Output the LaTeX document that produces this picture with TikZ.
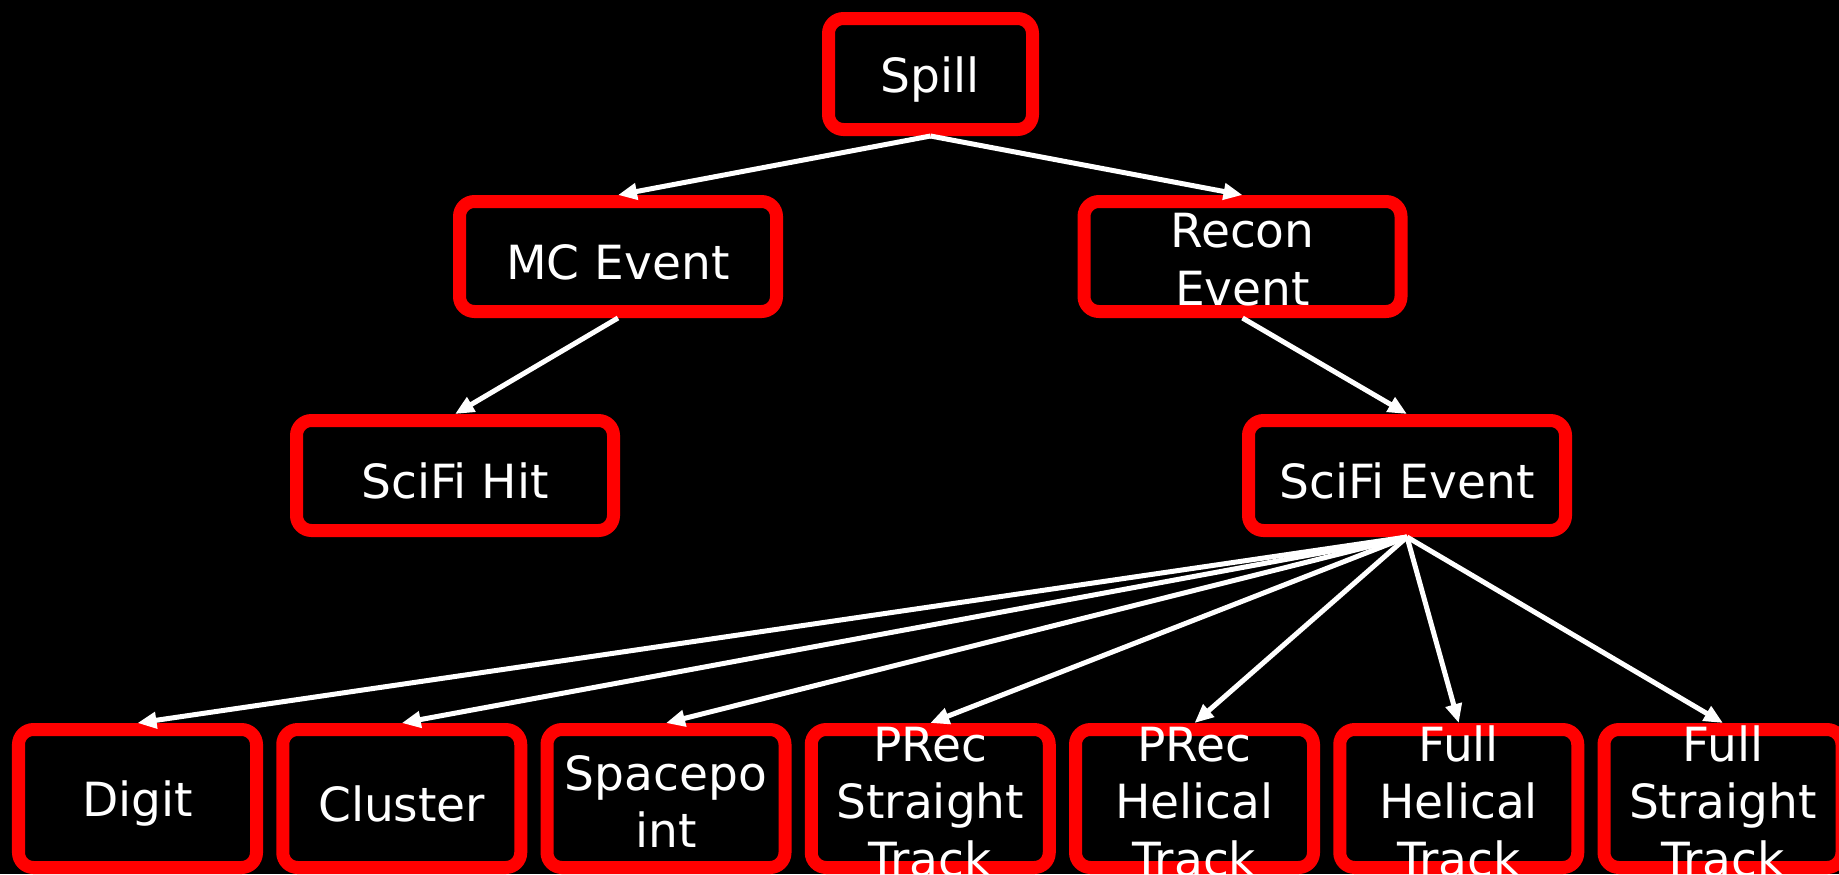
\documentclass[tikz,border=0pt]{standalone}
\usepackage{fontspec}
\setmainfont{DejaVu Sans}
\usetikzlibrary{arrows.meta}
\definecolor{boxred}{RGB}{255,0,0}
\newcommand{\firstline}{\rule{0pt}{0.87em}}

\begin{document}
\begin{tikzpicture}[
  every node/.style={font=\fontsize{13.4}{16.4}\selectfont, text=white},
  box/.style={draw=boxred, line width=0.13cm, rounded corners=0.15cm, fill=black,
    align=center, inner xsep=0pt, inner ysep=-0.25cm, minimum height=1.10cm,
    execute at begin node={\rule{0pt}{0.98em}}},
  wide/.style={box, minimum width=3.17cm},
  leaf/.style={box, minimum width=2.38cm, minimum height=1.38cm},
  link/.style={white, line width=0.05cm, -{Triangle[length=0.19cm,width=0.16cm]}}
]
\fill[black] (0,0) rectangle (18.39,-8.74);
\useasboundingbox (0,0) rectangle (18.39,-8.74);

% top levels
\node[box, minimum width=2.04cm, minimum height=1.11cm] (spill) at (9.305,-0.74) {Spill};
\node[wide] (mcevent) at (6.18,-2.565) {MC Event};
\node[wide] (reconevent) at (12.425,-2.565) {\firstline Recon\\Event};
\node[wide] (scifihit) at (4.55,-4.755) {SciFi Hit};
\node[wide] (scifievent) at (14.07,-4.755) {SciFi Event};

% bottom row
\node[leaf] (digit) at (1.375,-7.985) {Digit};
\node[leaf] (cluster) at (4.0175,-7.985) {Cluster};
\node[leaf] (spacepoint) at (6.66,-7.985) {\firstline Spacepo\\int};
\node[leaf] (precstraight) at (9.3025,-7.985) {\firstline PRec\\Straight\\Track};
\node[leaf] (prechelical) at (11.945,-7.985) {\firstline PRec\\Helical\\Track};
\node[leaf] (fullhelical) at (14.5875,-7.985) {\firstline Full\\Helical\\Track};
\node[leaf] (fullstraight) at (17.23,-7.985) {\firstline Full\\Straight\\Track};

% connectors
\draw[link] (spill.south) -- (mcevent.north);
\draw[link] (spill.south) -- (reconevent.north);
\draw[link] (mcevent.south) -- (scifihit.north);
\draw[link] (reconevent.south) -- (scifievent.north);
\draw[link] (scifievent.south) -- (digit.north);
\draw[link] (scifievent.south) -- (cluster.north);
\draw[link] (scifievent.south) -- (spacepoint.north);
\draw[link] (scifievent.south) -- (precstraight.north);
\draw[link] (scifievent.south) -- (prechelical.north);
\draw[link] (scifievent.south) -- (fullhelical.north);
\draw[link] (scifievent.south) -- (fullstraight.north);
\end{tikzpicture}
\end{document}
